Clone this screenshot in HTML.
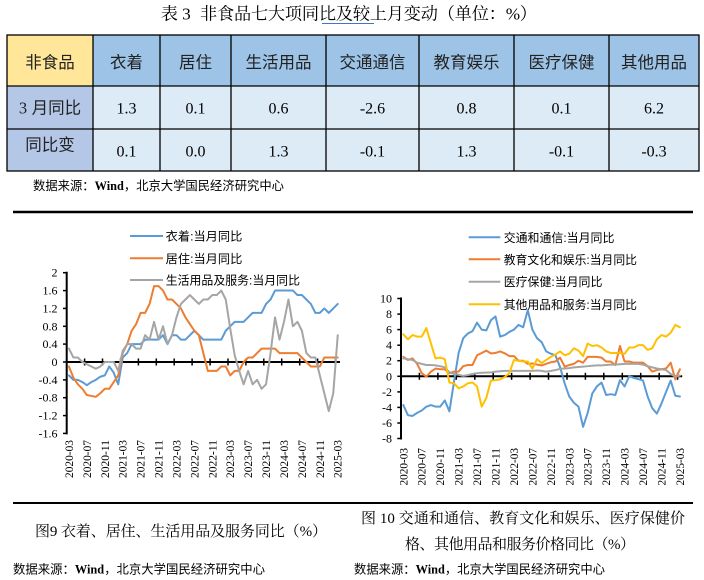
<!DOCTYPE html>
<html>
<head>
<meta charset="utf-8">
<style>
  html,body{margin:0;padding:0;background:#fff;}
  svg{display:block;}
  .serif{font-family:"Liberation Serif","Noto Serif CJK SC",serif;}
  .sans{font-family:"Liberation Sans","Noto Sans CJK SC",sans-serif;}
  .tick{font-family:"Liberation Serif","Noto Serif CJK SC",serif;font-size:12px;fill:#000;}
  .xl{font-family:"Liberation Serif","Noto Serif CJK SC",serif;font-size:11.5px;fill:#000;}
  .ser{fill:none;stroke-width:2;stroke-linejoin:round;stroke-linecap:round;}
</style>
</head>
<body>
<svg width="704" height="580" viewBox="0 0 704 580" xmlns="http://www.w3.org/2000/svg">
  <rect width="704" height="580" fill="#fff"/>

  <!-- Title -->
  <text class="serif" x="160.7" y="19.5" font-size="17.2">表 3</text>
  <text class="serif" x="200" y="19.5" font-size="17.2" textLength="337" lengthAdjust="spacing">非食品七大项同比及较上月变动（单位：%）</text>
  <line x1="322" y1="23.5" x2="374" y2="23.5" stroke="#4472C4" stroke-width="1"/>

  <!-- Table fills -->
  <rect x="7" y="35" width="86" height="51" fill="#FFE699"/>
  <rect x="93" y="35" width="606" height="51" fill="#9DC3E6"/>
  <rect x="7" y="86" width="86" height="85" fill="#B4C7E7"/>
  <rect x="93" y="86" width="606" height="85" fill="#DDEBF7"/>
  <!-- Table lines -->
  <g stroke="#000" stroke-width="1.3" fill="none">
    <rect x="7" y="35" width="692" height="136"/>
    <line x1="7" y1="86" x2="699" y2="86"/>
    <line x1="7" y1="129" x2="699" y2="129"/>
    <line x1="93" y1="35" x2="93" y2="171"/>
    <line x1="160" y1="35" x2="160" y2="171"/>
    <line x1="231" y1="35" x2="231" y2="171"/>
    <line x1="326" y1="35" x2="326" y2="171"/>
    <line x1="419" y1="35" x2="419" y2="171"/>
    <line x1="514" y1="35" x2="514" y2="171"/>
    <line x1="609" y1="35" x2="609" y2="171"/>
  </g>
  <!-- Table header text -->
  <g class="sans" font-size="16.5" text-anchor="middle" fill="#222">
    <text x="50" y="68">非食品</text>
    <text x="126.5" y="68">衣着</text>
    <text x="195.5" y="68">居住</text>
    <text x="278.5" y="68">生活用品</text>
    <text x="372.5" y="68">交通通信</text>
    <text x="466.5" y="68">教育娱乐</text>
    <text x="561.5" y="68">医疗保健</text>
    <text x="654" y="68">其他用品</text>
    <text x="50" y="113.5"><tspan class="serif">3</tspan> 月同比</text>
    <text x="50" y="150.5">同比变</text>
  </g>
  <g class="serif" font-size="16" text-anchor="middle" fill="#000">
    <text x="126.5" y="113.3">1.3</text>
    <text x="195.5" y="113.3">0.1</text>
    <text x="278.5" y="113.3">0.6</text>
    <text x="372.5" y="113.3">-2.6</text>
    <text x="466.5" y="113.3">0.8</text>
    <text x="561.5" y="113.3">0.1</text>
    <text x="654" y="113.3">6.2</text>
    <text x="126.5" y="156.5">0.1</text>
    <text x="195.5" y="156.5">0.0</text>
    <text x="278.5" y="156.5">1.3</text>
    <text x="372.5" y="156.5">-0.1</text>
    <text x="466.5" y="156.5">1.3</text>
    <text x="561.5" y="156.5">-0.1</text>
    <text x="654" y="156.5">-0.3</text>
  </g>

  <!-- Source top -->
  <text class="sans" x="33" y="190" font-size="12.5" textLength="251" lengthAdjust="spacingAndGlyphs">数据来源：<tspan class="serif" font-weight="bold">Wind</tspan>，北京大学国民经济研究中心</text>

  <!-- Chart frame rules -->
  <line x1="13" y1="212" x2="693" y2="212" stroke="#000" stroke-width="2.4"/>
  <line x1="13" y1="503" x2="693" y2="503" stroke="#000" stroke-width="2"/>

  <!-- ============ LEFT CHART ============ -->
  <!-- legend -->
  <line x1="130" y1="236" x2="163" y2="236" stroke="#5B9BD5" stroke-width="2"/>
  <text class="sans" x="165.7" y="240.5" font-size="12" textLength="76.6" lengthAdjust="spacingAndGlyphs">衣着:当月同比</text>
  <line x1="130" y1="258.3" x2="163" y2="258.3" stroke="#ED7D31" stroke-width="2"/>
  <text class="sans" x="165.7" y="262.8" font-size="12" textLength="76.6" lengthAdjust="spacingAndGlyphs">居住:当月同比</text>
  <line x1="130" y1="280" x2="163" y2="280" stroke="#A5A5A5" stroke-width="2"/>
  <text class="sans" x="165.7" y="284.5" font-size="12" textLength="134.3" lengthAdjust="spacingAndGlyphs">生活用品及服务:当月同比</text>

  <!-- y labels -->
  <g class="tick" text-anchor="end">
    <text x="57.5" y="276.7">2</text>
    <text x="57.5" y="294.6">1.6</text>
    <text x="57.5" y="312.4">1.2</text>
    <text x="57.5" y="330.3">0.8</text>
    <text x="57.5" y="348.1">0.4</text>
    <text x="57.5" y="366">0</text>
    <text x="57.5" y="383.9">-0.4</text>
    <text x="57.5" y="401.7">-0.8</text>
    <text x="57.5" y="419.6">-1.2</text>
    <text x="57.5" y="437.4">-1.6</text>
  </g>
  <!-- axes -->
  <g stroke="#000" stroke-width="2">
    <line x1="66.7" y1="271.7" x2="66.7" y2="434.4"/>
    <line x1="66.7" y1="362" x2="340" y2="362"/>
  </g>
  <g stroke="#000" stroke-width="1.5">
    <line x1="63" y1="272.7" x2="66.7" y2="272.7"/>
    <line x1="63" y1="290.6" x2="66.7" y2="290.6"/>
    <line x1="63" y1="308.4" x2="66.7" y2="308.4"/>
    <line x1="63" y1="326.3" x2="66.7" y2="326.3"/>
    <line x1="63" y1="344.1" x2="66.7" y2="344.1"/>
    <line x1="63" y1="362" x2="66.7" y2="362"/>
    <line x1="63" y1="379.9" x2="66.7" y2="379.9"/>
    <line x1="63" y1="397.7" x2="66.7" y2="397.7"/>
    <line x1="63" y1="415.6" x2="66.7" y2="415.6"/>
    <line x1="63" y1="433.4" x2="66.7" y2="433.4"/>
    <line x1="84.6" y1="358.5" x2="84.6" y2="365.5"/>
    <line x1="102.5" y1="358.5" x2="102.5" y2="365.5"/>
    <line x1="120.5" y1="358.5" x2="120.5" y2="365.5"/>
    <line x1="138.4" y1="358.5" x2="138.4" y2="365.5"/>
    <line x1="156.3" y1="358.5" x2="156.3" y2="365.5"/>
    <line x1="174.2" y1="358.5" x2="174.2" y2="365.5"/>
    <line x1="192.1" y1="358.5" x2="192.1" y2="365.5"/>
    <line x1="210.1" y1="358.5" x2="210.1" y2="365.5"/>
    <line x1="228.0" y1="358.5" x2="228.0" y2="365.5"/>
    <line x1="245.9" y1="358.5" x2="245.9" y2="365.5"/>
    <line x1="263.8" y1="358.5" x2="263.8" y2="365.5"/>
    <line x1="281.7" y1="358.5" x2="281.7" y2="365.5"/>
    <line x1="299.7" y1="358.5" x2="299.7" y2="365.5"/>
    <line x1="317.6" y1="358.5" x2="317.6" y2="365.5"/>
    <line x1="335.5" y1="358.5" x2="335.5" y2="365.5"/>
  </g>
  <!-- x labels -->
  <g class="xl" text-anchor="end">
    <text transform="translate(72.9,440) rotate(-90)" textLength="38" lengthAdjust="spacingAndGlyphs">2020-03</text>
    <text transform="translate(90.9,440) rotate(-90)" textLength="38" lengthAdjust="spacingAndGlyphs">2020-07</text>
    <text transform="translate(108.8,440) rotate(-90)" textLength="38" lengthAdjust="spacingAndGlyphs">2020-11</text>
    <text transform="translate(126.7,440) rotate(-90)" textLength="38" lengthAdjust="spacingAndGlyphs">2021-03</text>
    <text transform="translate(144.6,440) rotate(-90)" textLength="38" lengthAdjust="spacingAndGlyphs">2021-07</text>
    <text transform="translate(162.5,440) rotate(-90)" textLength="38" lengthAdjust="spacingAndGlyphs">2021-11</text>
    <text transform="translate(180.5,440) rotate(-90)" textLength="38" lengthAdjust="spacingAndGlyphs">2022-03</text>
    <text transform="translate(198.4,440) rotate(-90)" textLength="38" lengthAdjust="spacingAndGlyphs">2022-07</text>
    <text transform="translate(216.3,440) rotate(-90)" textLength="38" lengthAdjust="spacingAndGlyphs">2022-11</text>
    <text transform="translate(234.2,440) rotate(-90)" textLength="38" lengthAdjust="spacingAndGlyphs">2023-03</text>
    <text transform="translate(252.1,440) rotate(-90)" textLength="38" lengthAdjust="spacingAndGlyphs">2023-07</text>
    <text transform="translate(270.1,440) rotate(-90)" textLength="38" lengthAdjust="spacingAndGlyphs">2023-11</text>
    <text transform="translate(288.0,440) rotate(-90)" textLength="38" lengthAdjust="spacingAndGlyphs">2024-03</text>
    <text transform="translate(305.9,440) rotate(-90)" textLength="38" lengthAdjust="spacingAndGlyphs">2024-07</text>
    <text transform="translate(323.8,440) rotate(-90)" textLength="38" lengthAdjust="spacingAndGlyphs">2024-11</text>
    <text transform="translate(341.7,440) rotate(-90)" textLength="38" lengthAdjust="spacingAndGlyphs">2025-03</text>
  </g>
  <!-- series -->
  <g transform="matrix(4.48 0 0 -44.65 68.94 362)">
    <polyline class="ser" vector-effect="non-scaling-stroke" stroke="#5B9BD5" points="0,-0.3 1,-0.4 2,-0.4 3,-0.45 4,-0.52 5,-0.45 6,-0.4 7,-0.33 8,-0.3 9,-0.1 10,-0.24 11,-0.5 12,0.1 13,0.2 14,0.4 15,0.4 16,0.4 17,0.5 18,0.5 19,0.5 20,0.5 21,0.6 22,0.4 23,0.6 24,0.6 25,0.5 26,0.5 27,0.6 28,0.7 29,0.6 30,0.5 31,0.5 32,0.5 33,0.5 34,0.5 35,0.7 36,0.8 37,0.9 38,0.9 39,0.9 40,1.0 41,1.1 42,1.1 43,1.1 44,1.3 45,1.4 46,1.6 47,1.6 48,1.6 49,1.6 50,1.6 51,1.5 52,1.5 53,1.4 54,1.3 55,1.1 56,1.1 57,1.2 58,1.1 59,1.2 60,1.3"/>
    <polyline class="ser" vector-effect="non-scaling-stroke" stroke="#ED7D31" points="0,-0.1 1,-0.35 2,-0.5 3,-0.6 4,-0.74 5,-0.76 6,-0.78 7,-0.7 8,-0.6 9,-0.6 10,-0.45 11,-0.3 12,0.2 13,0.4 14,0.7 15,0.85 16,1.1 17,1.1 18,1.3 19,1.7 20,1.7 21,1.6 22,1.4 23,1.4 24,1.3 25,1.2 26,1.0 27,0.85 28,0.7 29,0.6 30,0.2 31,-0.2 32,-0.2 33,-0.2 34,-0.1 35,-0.1 36,-0.3 37,-0.2 38,-0.2 39,0 40,0.1 41,0.1 42,0.2 43,0.3 44,0.3 45,0.3 46,0.3 47,0.2 48,0.2 49,0.2 50,0.2 51,0.2 52,0.1 53,0 54,-0.1 55,-0.1 56,-0.1 57,0.1 58,0.1 59,0.1 60,0.1"/>
    <polyline class="ser" vector-effect="non-scaling-stroke" stroke="#A5A5A5" points="0,0.3 1,0.1 2,0.1 3,0 4,-0.05 5,-0.1 6,-0.15 7,-0.1 8,0 9,0 10,0 11,-0.2 12,0.25 13,0.4 14,0.4 15,0.3 16,0.3 17,0.6 18,0.5 19,0.9 20,0.5 21,0.8 22,0.4 23,0.6 24,1.0 25,1.3 26,1.4 27,1.5 28,1.4 29,1.3 30,1.4 31,1.4 32,1.5 33,1.5 34,1.6 35,1.4 36,0.75 37,0.15 38,-0.2 39,-0.5 40,-0.2 41,-0.5 42,-0.4 43,-0.6 44,-0.5 45,0.2 46,1.0 47,0.5 48,0.9 49,1.4 50,0.8 51,0.9 52,0.7 53,0.2 54,0.1 55,0.1 56,-0.3 57,-0.7 58,-1.1 59,-0.7 60,0.6"/>
  </g>

  <!-- ============ RIGHT CHART ============ -->
  <!-- legend -->
  <line x1="468.7" y1="237.3" x2="500.3" y2="237.3" stroke="#5B9BD5" stroke-width="2"/>
  <text class="sans" x="503.7" y="241.8" font-size="12" textLength="110.7" lengthAdjust="spacingAndGlyphs">交通和通信:当月同比</text>
  <line x1="468.7" y1="259.3" x2="500.3" y2="259.3" stroke="#ED7D31" stroke-width="2"/>
  <text class="sans" x="503.7" y="263.8" font-size="12" textLength="133.3" lengthAdjust="spacingAndGlyphs">教育文化和娱乐:当月同比</text>
  <line x1="468.7" y1="281.7" x2="500.3" y2="281.7" stroke="#A5A5A5" stroke-width="2"/>
  <text class="sans" x="503.7" y="286.2" font-size="12" textLength="98.7" lengthAdjust="spacingAndGlyphs">医疗保健:当月同比</text>
  <line x1="468.7" y1="304.3" x2="500.3" y2="304.3" stroke="#FFC000" stroke-width="2"/>
  <text class="sans" x="503.7" y="308.8" font-size="12" textLength="133.3" lengthAdjust="spacingAndGlyphs">其他用品和服务:当月同比</text>

  <!-- y labels -->
  <g class="tick" text-anchor="end">
    <text x="392" y="302.5">10</text>
    <text x="392" y="318.1">8</text>
    <text x="392" y="333.6">6</text>
    <text x="392" y="349.2">4</text>
    <text x="392" y="364.7">2</text>
    <text x="392" y="380.3">0</text>
    <text x="392" y="395.9">-2</text>
    <text x="392" y="411.4">-4</text>
    <text x="392" y="427">-6</text>
    <text x="392" y="442.5">-8</text>
  </g>
  <!-- axes -->
  <g stroke="#000" stroke-width="2">
    <line x1="401" y1="297.5" x2="401" y2="439.5"/>
    <line x1="401" y1="376.3" x2="682.2" y2="376.3"/>
  </g>
  <g stroke="#000" stroke-width="1.5">
    <line x1="397.3" y1="298.5" x2="401" y2="298.5"/>
    <line x1="397.3" y1="314.1" x2="401" y2="314.1"/>
    <line x1="397.3" y1="329.6" x2="401" y2="329.6"/>
    <line x1="397.3" y1="345.2" x2="401" y2="345.2"/>
    <line x1="397.3" y1="360.7" x2="401" y2="360.7"/>
    <line x1="397.3" y1="376.3" x2="401" y2="376.3"/>
    <line x1="397.3" y1="391.9" x2="401" y2="391.9"/>
    <line x1="397.3" y1="407.4" x2="401" y2="407.4"/>
    <line x1="397.3" y1="423" x2="401" y2="423"/>
    <line x1="397.3" y1="438.5" x2="401" y2="438.5"/>
    <line x1="419.4" y1="372.8" x2="419.4" y2="379.8"/>
    <line x1="437.9" y1="372.8" x2="437.9" y2="379.8"/>
    <line x1="456.3" y1="372.8" x2="456.3" y2="379.8"/>
    <line x1="474.8" y1="372.8" x2="474.8" y2="379.8"/>
    <line x1="493.2" y1="372.8" x2="493.2" y2="379.8"/>
    <line x1="511.6" y1="372.8" x2="511.6" y2="379.8"/>
    <line x1="530.1" y1="372.8" x2="530.1" y2="379.8"/>
    <line x1="548.5" y1="372.8" x2="548.5" y2="379.8"/>
    <line x1="567.0" y1="372.8" x2="567.0" y2="379.8"/>
    <line x1="585.4" y1="372.8" x2="585.4" y2="379.8"/>
    <line x1="603.8" y1="372.8" x2="603.8" y2="379.8"/>
    <line x1="622.3" y1="372.8" x2="622.3" y2="379.8"/>
    <line x1="640.7" y1="372.8" x2="640.7" y2="379.8"/>
    <line x1="659.2" y1="372.8" x2="659.2" y2="379.8"/>
    <line x1="677.6" y1="372.8" x2="677.6" y2="379.8"/>
  </g>
  <!-- x labels -->
  <g class="xl" text-anchor="end">
    <text transform="translate(407.3,448) rotate(-90)" textLength="37.5" lengthAdjust="spacingAndGlyphs">2020-03</text>
    <text transform="translate(425.7,448) rotate(-90)" textLength="37.5" lengthAdjust="spacingAndGlyphs">2020-07</text>
    <text transform="translate(444.2,448) rotate(-90)" textLength="37.5" lengthAdjust="spacingAndGlyphs">2020-11</text>
    <text transform="translate(462.6,448) rotate(-90)" textLength="37.5" lengthAdjust="spacingAndGlyphs">2021-03</text>
    <text transform="translate(481.1,448) rotate(-90)" textLength="37.5" lengthAdjust="spacingAndGlyphs">2021-07</text>
    <text transform="translate(499.5,448) rotate(-90)" textLength="37.5" lengthAdjust="spacingAndGlyphs">2021-11</text>
    <text transform="translate(517.9,448) rotate(-90)" textLength="37.5" lengthAdjust="spacingAndGlyphs">2022-03</text>
    <text transform="translate(536.4,448) rotate(-90)" textLength="37.5" lengthAdjust="spacingAndGlyphs">2022-07</text>
    <text transform="translate(554.8,448) rotate(-90)" textLength="37.5" lengthAdjust="spacingAndGlyphs">2022-11</text>
    <text transform="translate(573.3,448) rotate(-90)" textLength="37.5" lengthAdjust="spacingAndGlyphs">2023-03</text>
    <text transform="translate(591.7,448) rotate(-90)" textLength="37.5" lengthAdjust="spacingAndGlyphs">2023-07</text>
    <text transform="translate(610.1,448) rotate(-90)" textLength="37.5" lengthAdjust="spacingAndGlyphs">2023-11</text>
    <text transform="translate(628.6,448) rotate(-90)" textLength="37.5" lengthAdjust="spacingAndGlyphs">2024-03</text>
    <text transform="translate(647.0,448) rotate(-90)" textLength="37.5" lengthAdjust="spacingAndGlyphs">2024-07</text>
    <text transform="translate(665.5,448) rotate(-90)" textLength="37.5" lengthAdjust="spacingAndGlyphs">2024-11</text>
    <text transform="translate(683.9,448) rotate(-90)" textLength="37.5" lengthAdjust="spacingAndGlyphs">2025-03</text>
  </g>
  <!-- series -->
  <g transform="matrix(4.61 0 0 -7.78 403.3 376.3)">
    <polyline class="ser" vector-effect="non-scaling-stroke" stroke="#5B9BD5" points="0,-3.7 1,-5.0 2,-5.1 3,-4.7 4,-4.4 5,-3.9 6,-3.7 7,-3.9 8,-3.9 9,-3.1 10,-4.5 11,-0.7 12,3.0 13,4.9 14,5.5 15,5.8 16,6.9 17,6.0 18,5.9 19,7.2 20,7.7 21,5.1 22,5.3 23,5.7 24,6.0 25,6.6 26,6.3 27,8.5 28,6.0 29,4.9 30,4.4 31,3.2 32,2.9 33,2.7 34,1.2 35,-0.9 36,-2.6 37,-3.4 38,-3.9 39,-6.5 40,-4.7 41,-2.2 42,-1.3 43,-0.8 44,-2.4 45,-2.3 46,-2.4 47,-0.5 48,-1.3 49,0 50,-0.2 51,-0.35 52,-0.55 53,-2.6 54,-4.1 55,-4.8 56,-3.5 57,-2.0 58,-0.55 59,-2.5 60,-2.6"/>
    <polyline class="ser" vector-effect="non-scaling-stroke" stroke="#ED7D31" points="0,2.5 1,2.1 2,2.3 3,1.6 4,0.4 5,-0.05 6,0.6 7,1.0 8,0.9 9,0.9 10,0.4 11,0.6 12,0.6 13,1.3 14,1.45 15,1.45 16,2.7 17,3.0 18,3.3 19,2.95 20,3.0 21,3.2 22,2.95 23,2.6 24,2.6 25,2.0 26,2.0 27,1.6 28,1.65 29,1.5 30,1.4 31,1.6 32,1.8 33,1.9 34,2.4 35,1.25 36,1.45 37,1.6 38,2.0 39,1.75 40,2.5 41,2.5 42,2.5 43,2.4 44,1.9 45,1.9 46,1.45 47,3.9 48,1.9 49,1.9 50,1.75 51,1.75 52,1.75 53,1.3 54,0.6 55,0.8 56,0.9 57,1.0 58,1.75 59,-0.4 60,0.9"/>
    <polyline class="ser" vector-effect="non-scaling-stroke" stroke="#A5A5A5" points="0,2.3 1,2.2 2,2.1 3,1.75 4,1.6 5,1.45 6,1.45 7,1.4 8,1.3 9,1.15 10,0.5 11,0.3 12,0.2 13,0.05 14,0.15 15,0.3 16,0.4 17,0.45 18,0.47 19,0.5 20,0.6 21,0.65 22,0.7 23,0.7 24,0.7 25,0.7 26,0.7 27,0.7 28,0.7 29,0.75 30,0.7 31,0.6 32,0.7 33,0.8 34,0.95 35,1.0 36,1.05 37,1.15 38,1.2 39,1.25 40,1.3 41,1.35 42,1.4 43,1.4 44,1.45 45,1.5 46,1.5 47,1.55 48,1.6 49,1.6 50,1.6 51,1.6 52,1.5 53,1.3 54,1.15 55,1.0 56,0.9 57,0.8 58,0.3 59,-0.05 60,0.1"/>
    <polyline class="ser" vector-effect="non-scaling-stroke" stroke="#FFC000" points="0,5.4 1,4.75 2,5.3 3,5.1 4,5.1 5,6.2 6,4.2 7,2.3 8,2.4 9,2.2 10,-0.8 11,-0.9 12,-1.55 13,-1.3 14,-0.9 15,-0.8 16,-1.3 17,-3.9 18,-2.8 19,-0.55 20,-0.5 21,-0.4 22,-0.1 23,0.4 24,2.1 25,2.0 26,1.9 27,1.9 28,1.0 29,2.2 30,1.7 31,2.1 32,2.5 33,2.8 34,3.2 35,2.7 36,2.9 37,3.6 38,3.3 39,2.6 40,4.2 41,3.9 42,4.0 43,3.7 44,3.2 45,3.0 46,3.0 47,3.0 48,2.9 49,3.7 50,3.7 51,4.0 52,4.0 53,3.4 54,3.6 55,4.75 56,5.3 57,5.1 58,5.6 59,6.6 60,6.3"/>
  </g>

  <!-- Captions -->
  <text class="serif" x="35" y="536" font-size="15" textLength="292" lengthAdjust="spacing">图9 衣着、居住、生活用品及服务同比（%）</text>
  <text class="serif" x="361" y="523" font-size="15" textLength="324" lengthAdjust="spacing">图 10 交通和通信、教育文化和娱乐、医疗保健价</text>
  <text class="serif" x="405" y="549" font-size="15" textLength="230" lengthAdjust="spacing">格、其他用品和服务价格同比（%）</text>

  <!-- Sources bottom -->
  <text class="sans" x="13" y="573.5" font-size="12.5" textLength="252" lengthAdjust="spacingAndGlyphs">数据来源：<tspan class="serif" font-weight="bold">Wind</tspan>，北京大学国民经济研究中心</text>
  <text class="sans" x="354" y="573.5" font-size="12.5" textLength="251" lengthAdjust="spacingAndGlyphs">数据来源：<tspan class="serif" font-weight="bold">Wind</tspan>，北京大学国民经济研究中心</text>
</svg>
</body>
</html>
